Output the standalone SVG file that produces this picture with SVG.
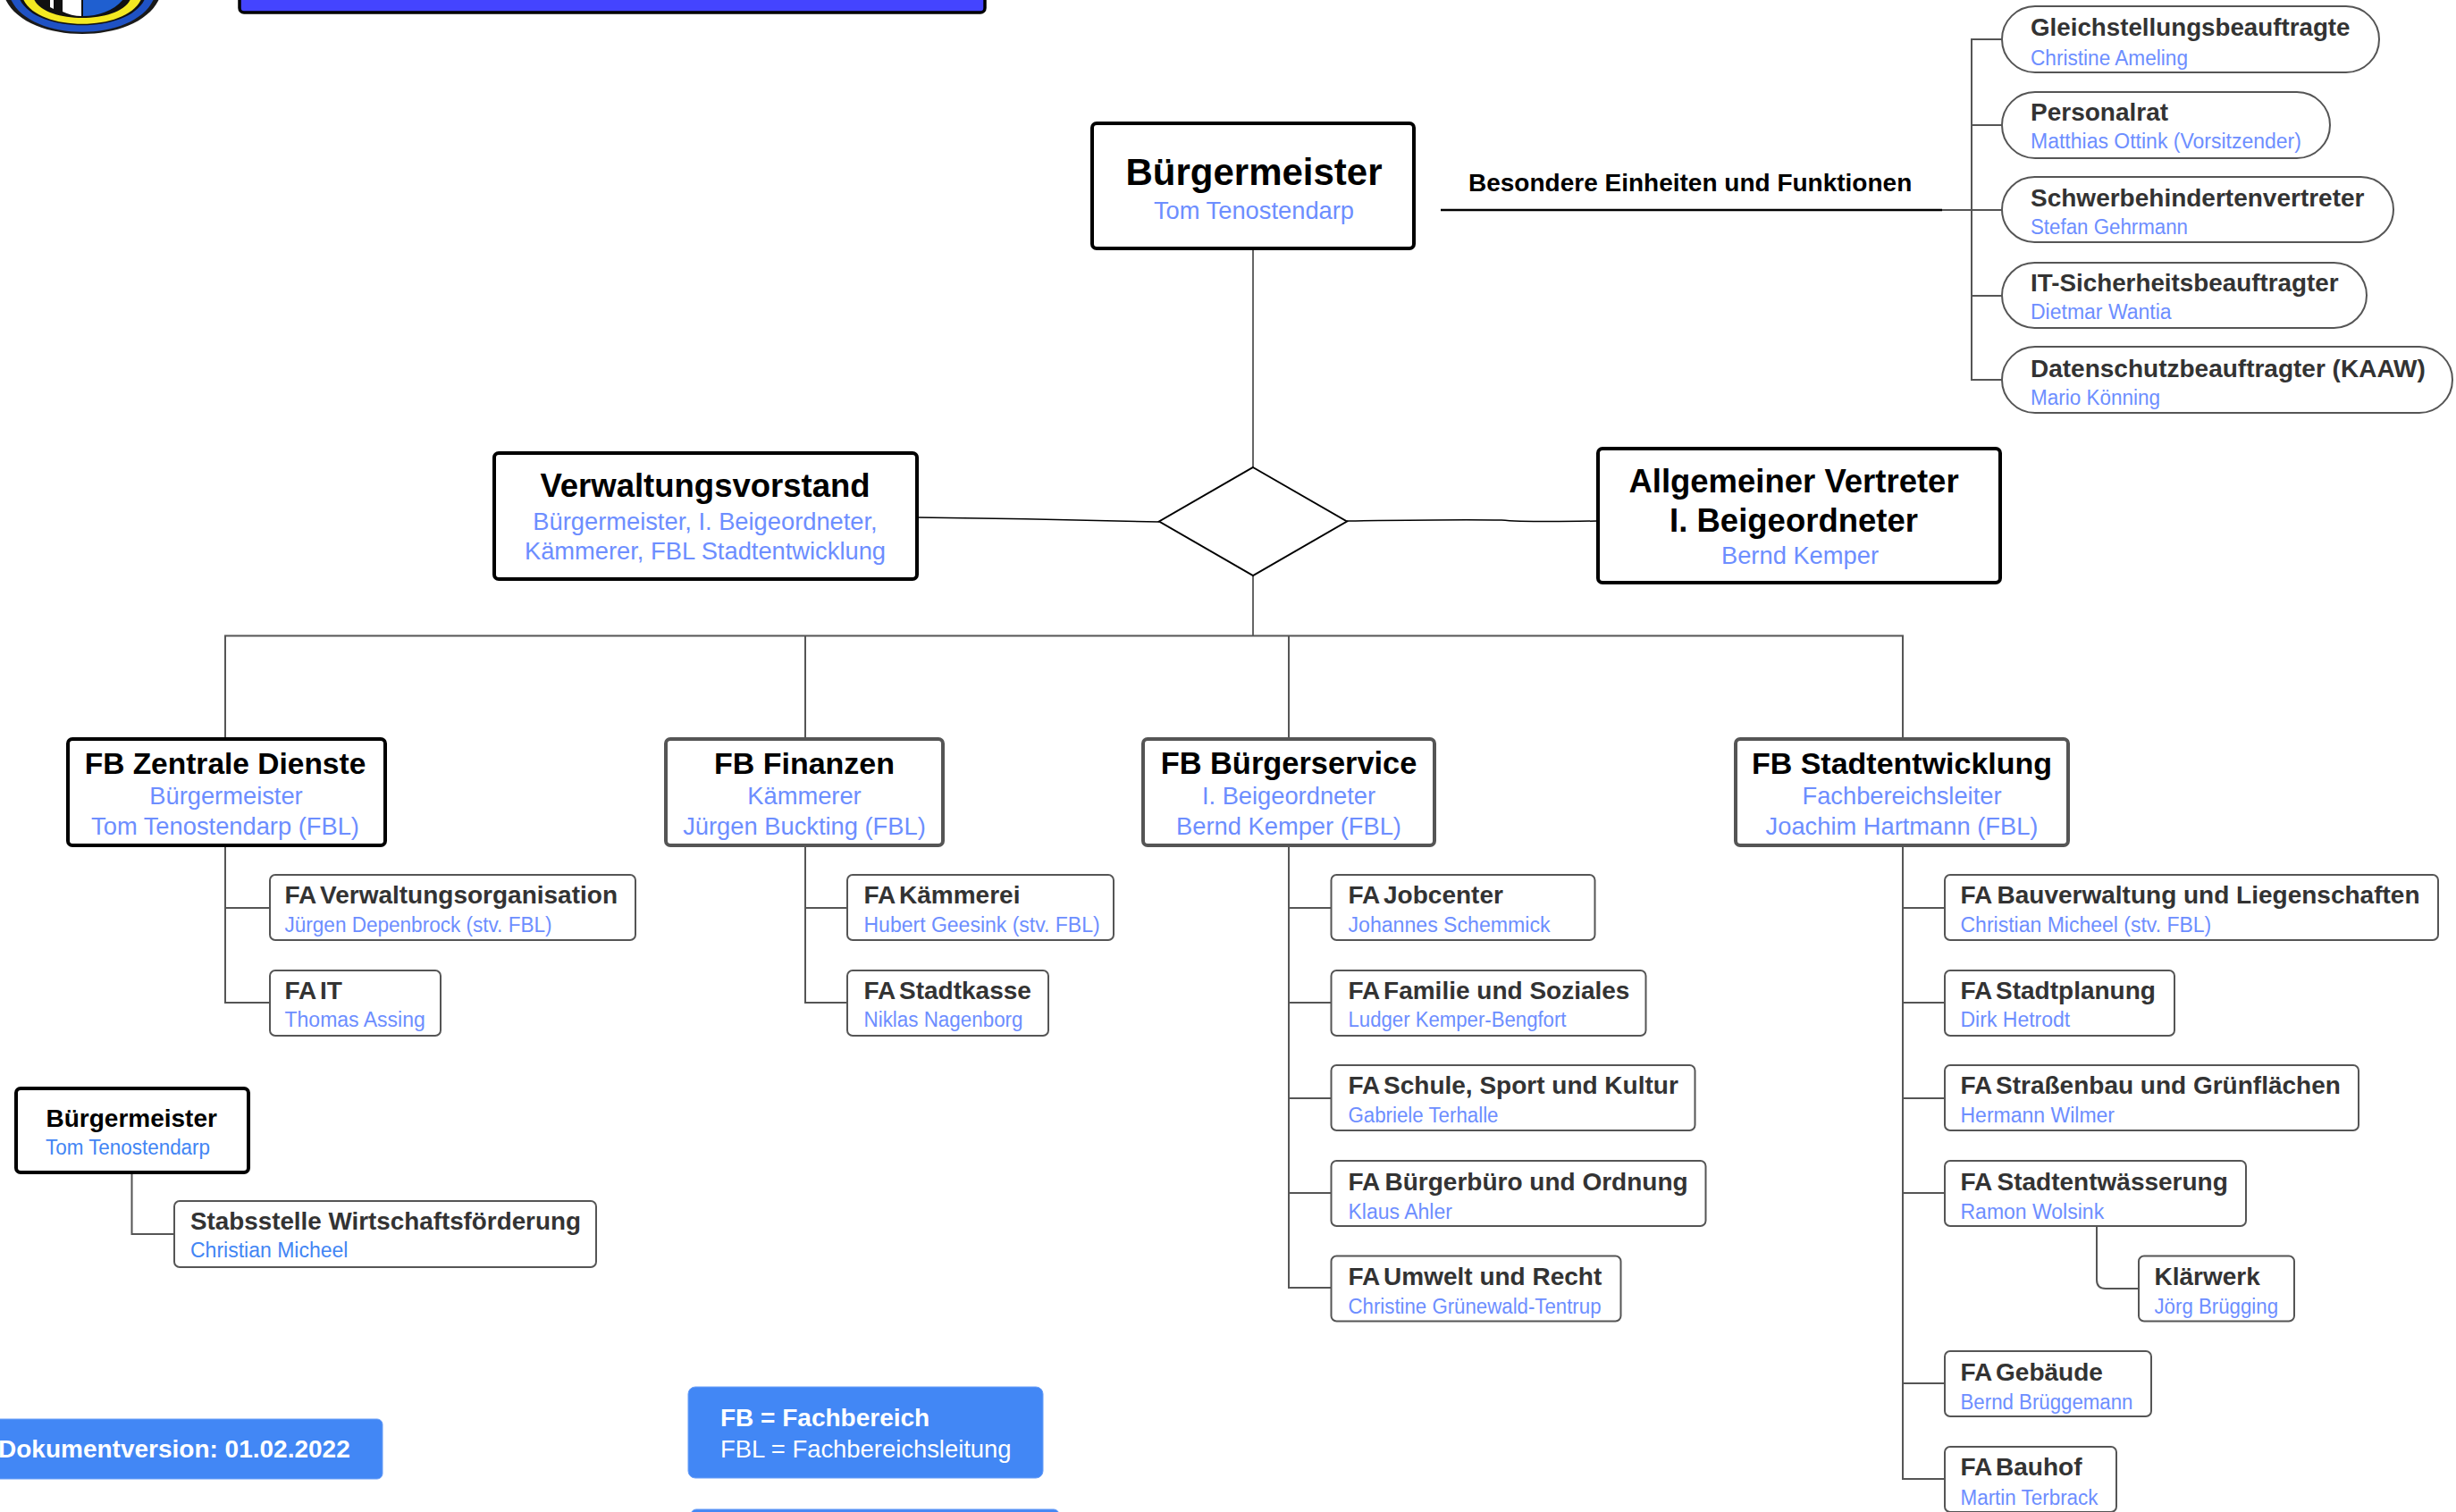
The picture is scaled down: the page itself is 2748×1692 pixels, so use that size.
<svg xmlns="http://www.w3.org/2000/svg" width="2748" height="1692" viewBox="0 0 2748 1692">
<style>
text{font-family:"Liberation Sans",Arial,sans-serif}
.box{fill:#fff;stroke:#000;stroke-width:4}
.fbg{fill:#fff;stroke:#555;stroke-width:4}
.fa{fill:#fff;stroke:#555;stroke-width:2}
.note{fill:#4287f5;stroke:#6a9ff7;stroke-width:1}
.h1{font-size:42px;font-weight:bold;fill:#000;text-anchor:middle}
.h2{font-size:36.500px;font-weight:bold;fill:#000;text-anchor:middle}
.h3{font-size:34px;font-weight:bold;fill:#000;text-anchor:middle}
.sm{font-size:27.300px;fill:#6d8eff;text-anchor:middle}
.t{font-size:28px;font-weight:bold;fill:#333}
.s{font-size:23px;fill:#6d8eff}
.s2{font-size:23px;fill:#4285f4}
.w{font-size:28px;fill:#fff}
.c{fill:none;stroke:#555;stroke-width:2}
.c1{fill:none;stroke:#333;stroke-width:1.500}
</style>
<g id="logo">
<path d="M6,-1C30,51 154,51 178,-1Z" fill="#1a1a1a"/>
<path d="M12,-1C34,48 150,48 172,-1Z" fill="#1f52c4"/>
<path d="M22,-1C40,38 144,38 162,-1Z" fill="#111"/>
<path d="M26,-1C42,36 142,36 158,-1Z" fill="#f4e922"/>
<path d="M38,-1C50,27 134,27 146,-1Z" fill="#111"/>
<path d="M93,-1V18C110,18 128,12 138,-1Z" fill="#1f5fd0"/>
<path d="M70,-1V13C76,16 84,18 91,18V-1Z" fill="#fff"/>
<path d="M56,-1V8L60,10V-1Z" fill="#fff"/>
</g>
<g id="titelbalken"><rect x="268" y="-20" width="834" height="34" rx="5" fill="#4444ff" stroke="#000" stroke-width="3.500"/></g>
<g id="connectors">
<path class="c1" d="M1402,279V523M1402,644V711.500"/>
<path fill="none" stroke="#000" stroke-width="1.500" d="M1026,579C1120,580 1200,582 1297,584M1507,583C1570,582 1640,581 1680,582C1700,584 1730,584 1787,583"/>
<path class="c" d="M252,827V711.500H2129V827M901,711.500V827M1442,711.500V827"/>
<path fill="none" stroke="#000" stroke-width="2.500" d="M1612,235H2173"/>
<path class="c" d="M2173,235H2241M2241,44H2206V425H2241M2206,140H2241M2206,331H2241"/>
<path class="c" d="M252,946V1122H302M252,1016H302"/>
<path class="c" d="M901,946V1122H948M901,1016H948"/>
<path class="c" d="M1442,946V1441H1489M1442,1016H1489M1442,1122H1489M1442,1229H1489M1442,1335H1489"/>
<path class="c" d="M2129,946V1655H2176M2129,1016H2176M2129,1122H2176M2129,1229H2176M2129,1335H2176M2129,1548H2176"/>
<path class="c" d="M2346,1372V1432Q2346,1442 2356,1442H2393"/>
<path class="c" d="M147.500,1312V1381H195"/>
</g>
<g id="buergermeister"><rect class="box" x="1222" y="138" width="360" height="140" rx="5"/><text class="h1" x="1403" y="207">Bürgermeister</text><text class="sm" x="1403" y="245">Tom Tenostendarp</text></g>
<g id="label-besondere"><text x="1643" y="214" style="font-size:28px;font-weight:bold;fill:#000">Besondere Einheiten und Funktionen</text></g>
<g id="p1"><rect class="fa" x="2240" y="7" width="422" height="74" rx="37"/><text class="t" x="2272" y="40" textLength="357.500" lengthAdjust="spacingAndGlyphs">Gleichstellungsbeauftragte</text><text class="s" x="2272" y="72.500" textLength="176" lengthAdjust="spacingAndGlyphs">Christine Ameling</text></g>
<g id="p2"><rect class="fa" x="2240" y="103" width="367" height="74" rx="37"/><text class="t" x="2272" y="135">Personalrat</text><text class="s" x="2272" y="166">Matthias Ottink (Vorsitzender)</text></g>
<g id="p3"><rect class="fa" x="2240" y="198" width="438" height="73" rx="36.500"/><text class="t" x="2272" y="231">Schwerbehindertenvertreter</text><text class="s" x="2272" y="262" textLength="176" lengthAdjust="spacingAndGlyphs">Stefan Gehrmann</text></g>
<g id="p4"><rect class="fa" x="2240" y="294" width="408" height="73" rx="36.500"/><text class="t" x="2272" y="326" textLength="344.500" lengthAdjust="spacingAndGlyphs">IT-Sicherheitsbeauftragter</text><text class="s" x="2272" y="357">Dietmar Wantia</text></g>
<g id="p5"><rect class="fa" x="2240" y="388" width="504" height="74" rx="37"/><text class="t" x="2272" y="422">Datenschutzbeauftragter (KAAW)</text><text class="s" x="2272" y="453" textLength="145" lengthAdjust="spacingAndGlyphs">Mario Könning</text></g>
<g id="verwaltungsvorstand"><rect class="box" x="553" y="507" width="473" height="141" rx="5"/><text class="h2" x="789" y="556">Verwaltungsvorstand</text><text class="sm" x="789" y="593">Bürgermeister, I. Beigeordneter,</text><text class="sm" x="789" y="626">Kämmerer, FBL Stadtentwicklung</text></g>
<g id="raute"><polygon points="1402,523 1507,583.500 1402,644 1297,583.500" fill="#fff" stroke="#000" stroke-width="2"/></g>
<g id="vertreter"><rect class="box" x="1788" y="502" width="450" height="150" rx="5"/><text class="h2" x="2007" y="551">Allgemeiner Vertreter</text><text class="h2" x="2007" y="595">I. Beigeordneter</text><text class="sm" x="2014" y="631">Bernd Kemper</text></g>
<g id="fb1"><rect class="box" x="76" y="827" width="355" height="119" rx="5"/><text class="h3" x="252" y="866" style="font-size:33.500px">FB Zentrale Dienste</text><text class="sm" x="253" y="900">Bürgermeister</text><text class="sm" x="252" y="934">Tom Tenostendarp (FBL)</text></g>
<g id="fb2"><rect class="fbg" x="745" y="827" width="310" height="119" rx="5"/><text class="h3" x="900" y="866">FB Finanzen</text><text class="sm" x="900" y="900">Kämmerer</text><text class="sm" x="900" y="934">Jürgen Buckting (FBL)</text></g>
<g id="fb3"><rect class="fbg" x="1279" y="827" width="326" height="119" rx="5"/><text class="h3" x="1442" y="866" style="font-size:34.400px">FB Bürgerservice</text><text class="sm" x="1442" y="900">I. Beigeordneter</text><text class="sm" x="1442" y="934">Bernd Kemper (FBL)</text></g>
<g id="fb4"><rect class="fbg" x="1942" y="827" width="372" height="119" rx="5"/><text class="h3" x="2128" y="866">FB Stadtentwicklung</text><text class="sm" x="2128" y="900">Fachbereichsleiter</text><text class="sm" x="2128" y="934">Joachim Hartmann (FBL)</text></g>
<g id="fa-vo"><rect class="fa" x="302" y="979" width="409" height="73" rx="6"/><text class="t" x="318.500" y="1011">FA<tspan dx="-3"> Verwaltungsorganisation</tspan></text><text class="s" x="318.500" y="1042.500" textLength="299" lengthAdjust="spacingAndGlyphs">Jürgen Depenbrock (stv. FBL)</text></g>
<g id="fa-it"><rect class="fa" x="302" y="1086" width="191" height="73" rx="6"/><text class="t" x="318.500" y="1117.500">FA<tspan dx="-3"> IT</tspan></text><text class="s" x="318.500" y="1149">Thomas Assing</text></g>
<g id="fa-kae"><rect class="fa" x="948" y="979" width="298" height="73" rx="6"/><text class="t" x="966.500" y="1011">FA<tspan dx="-3"> Kämmerei</tspan></text><text class="s" x="966.500" y="1042.500">Hubert Geesink (stv. FBL)</text></g>
<g id="fa-kasse"><rect class="fa" x="948" y="1086" width="225" height="73" rx="6"/><text class="t" x="966.500" y="1117.500">FA<tspan dx="-3"> Stadtkasse</tspan></text><text class="s" x="966.500" y="1149" textLength="178" lengthAdjust="spacingAndGlyphs">Niklas Nagenborg</text></g>
<g id="fa-job"><rect class="fa" x="1489.500" y="979" width="295" height="73" rx="6"/><text class="t" x="1508.500" y="1011">FA<tspan dx="-3"> Jobcenter</tspan></text><text class="s" x="1508.500" y="1042.500" textLength="226" lengthAdjust="spacingAndGlyphs">Johannes Schemmick</text></g>
<g id="fa-fam"><rect class="fa" x="1489.500" y="1086" width="352" height="73" rx="6"/><text class="t" x="1508.500" y="1117.500">FA<tspan dx="-3"> Familie und Soziales</tspan></text><text class="s" x="1508.500" y="1149" textLength="244" lengthAdjust="spacingAndGlyphs">Ludger Kemper-Bengfort</text></g>
<g id="fa-schule"><rect class="fa" x="1489.500" y="1192" width="407" height="73" rx="6"/><text class="t" x="1508.500" y="1224">FA<tspan dx="-3"> Schule, Sport und Kultur</tspan></text><text class="s" x="1508.500" y="1255.500" textLength="168" lengthAdjust="spacingAndGlyphs">Gabriele Terhalle</text></g>
<g id="fa-buero"><rect class="fa" x="1489.500" y="1299" width="419" height="73" rx="6"/><text class="t" x="1508.500" y="1332">FA<tspan dx="-1.500"> Bürgerbüro und Ordnung</tspan></text><text class="s" x="1508.500" y="1364">Klaus Ahler</text></g>
<g id="fa-umwelt"><rect class="fa" x="1489.500" y="1405.500" width="324" height="73" rx="6"/><text class="t" x="1508.500" y="1438">FA<tspan dx="-3"> Umwelt und Recht</tspan></text><text class="s" x="1508.500" y="1470" textLength="283" lengthAdjust="spacingAndGlyphs">Christine Grünewald-Tentrup</text></g>
<g id="fa-bau"><rect class="fa" x="2176" y="979" width="552" height="73" rx="6"/><text class="t" x="2193.500" y="1011">FA<tspan dx="-1.500"> Bauverwaltung und Liegenschaften</tspan></text><text class="s" x="2193.500" y="1042.500">Christian Micheel (stv. FBL)</text></g>
<g id="fa-plan"><rect class="fa" x="2176" y="1086" width="257" height="73" rx="6"/><text class="t" x="2193.500" y="1117.500">FA<tspan dx="-3"> Stadtplanung</tspan></text><text class="s" x="2193.500" y="1149">Dirk Hetrodt</text></g>
<g id="fa-str"><rect class="fa" x="2176" y="1192" width="463" height="73" rx="6"/><text class="t" x="2193.500" y="1224">FA<tspan dx="-3"> Straßenbau und Grünflächen</tspan></text><text class="s" x="2193.500" y="1255.500">Hermann Wilmer</text></g>
<g id="fa-entw"><rect class="fa" x="2176" y="1299" width="337" height="73" rx="6"/><text class="t" x="2193.500" y="1332">FA<tspan dx="-1.500"> Stadtentwässerung</tspan></text><text class="s" x="2193.500" y="1364">Ramon Wolsink</text></g>
<g id="klaerwerk"><rect class="fa" x="2393" y="1405.500" width="174" height="73" rx="6"/><text class="t" x="2410.500" y="1438">Klärwerk</text><text class="s" x="2410.500" y="1470" textLength="138.500" lengthAdjust="spacingAndGlyphs">Jörg Brügging</text></g>
<g id="fa-geb"><rect class="fa" x="2176" y="1512" width="231" height="73" rx="6"/><text class="t" x="2193.500" y="1545">FA<tspan dx="-3"> Gebäude</tspan></text><text class="s" x="2193.500" y="1577" textLength="193" lengthAdjust="spacingAndGlyphs">Bernd Brüggemann</text></g>
<g id="fa-hof"><rect class="fa" x="2176" y="1619" width="192" height="73" rx="6"/><text class="t" x="2193.500" y="1651">FA<tspan dx="-3"> Bauhof</tspan></text><text class="s" x="2193.500" y="1684" textLength="154" lengthAdjust="spacingAndGlyphs">Martin Terbrack</text></g>
<g id="bm2"><rect class="box" x="18" y="1218" width="260" height="94" rx="5"/><text class="t" x="51.500" y="1261" style="fill:#000">Bürgermeister</text><text class="s2" x="51" y="1292" textLength="184" lengthAdjust="spacingAndGlyphs">Tom Tenostendarp</text></g>
<g id="stabsstelle"><rect class="fa" x="195" y="1344" width="472" height="74" rx="6"/><text class="t" x="213" y="1376" style="font-size:27.800px">Stabsstelle Wirtschaftsförderung</text><text class="s2" x="213" y="1407">Christian Micheel</text></g>
<g id="version"><rect class="note" x="-20" y="1588" width="448" height="67" rx="6"/><text class="w" x="-2" y="1631" font-weight="bold">Dokumentversion: 01.02.2022</text></g>
<g id="legende"><rect class="note" x="770" y="1552" width="397" height="102" rx="8"/><text class="w" x="806" y="1596" font-weight="bold">FB = Fachbereich</text><text class="w" x="806" y="1631" style="font-size:27.400px">FBL = Fachbereichsleitung</text></g>
<g id="box-unten"><rect class="note" x="773" y="1689" width="412" height="40" rx="6"/></g>
</svg>
